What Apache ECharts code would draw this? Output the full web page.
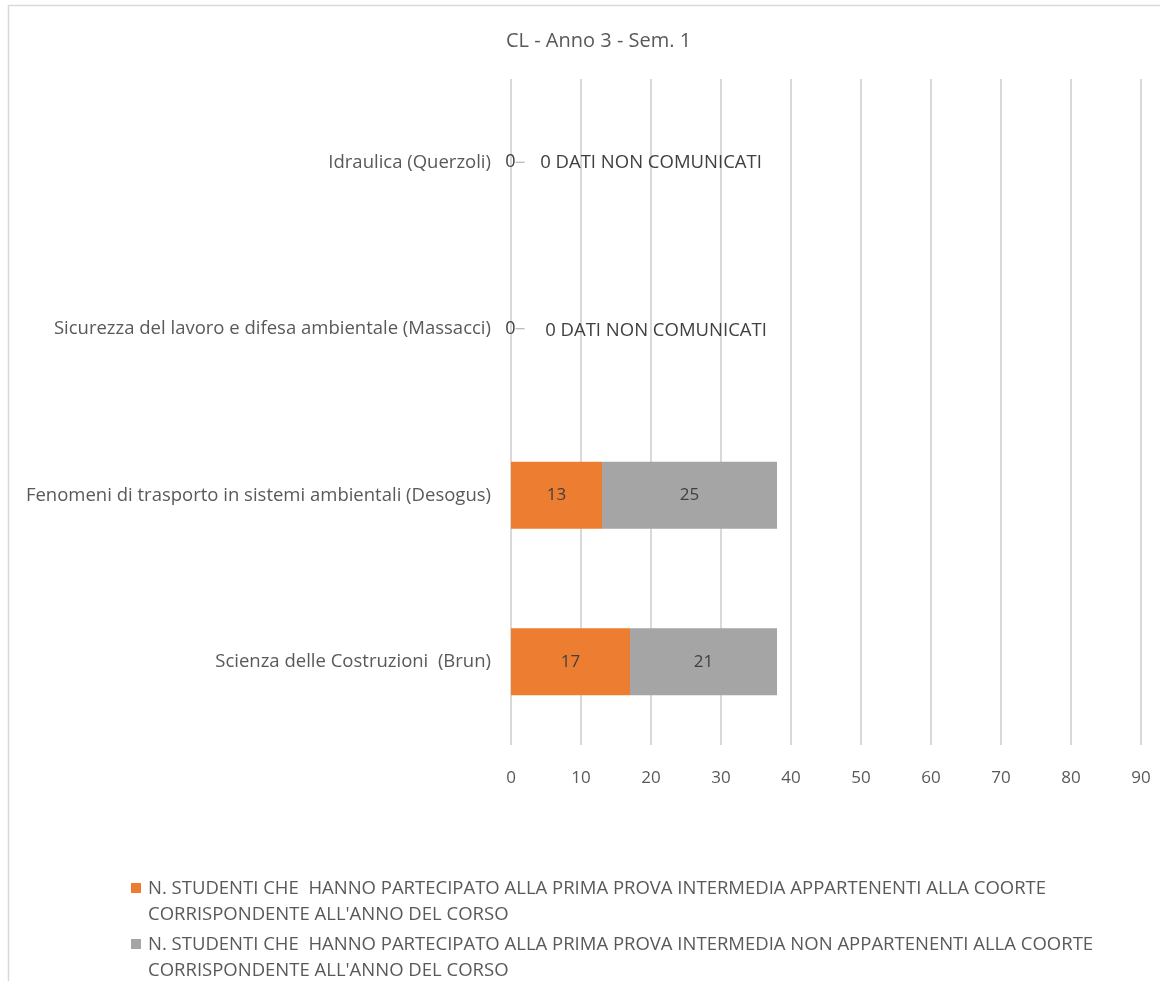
<!DOCTYPE html>
<html>
<head>
<meta charset="utf-8">
<script src="https://cdn.jsdelivr.net/npm/echarts@6/dist/echarts.min.js"></script>
<style>
html,body{margin:0;padding:0;background:#fff;}
#chart{width:1160px;height:981px;}
</style>
</head>
<body>
<div id="chart"></div>
<script>
const titleText = 'CL - Anno 3 - Sem. 1';
const categories = [
  'Scienza delle Costruzioni  (Brun)',
  'Fenomeni di trasporto in sistemi ambientali (Desogus)',
  'Sicurezza del lavoro e difesa ambientale (Massacci)',
  'Idraulica (Querzoli)'
];
const appartenenti = [17, 13, 0, 0];
const nonAppartenenti = [21, 25, 0, 0];
const notes = ['', '', 'DATI NON COMUNICATI', 'DATI NON COMUNICATI'];
const xTicks = [0, 10, 20, 30, 40, 50, 60, 70, 80, 90];
const seriesNames = [
  "N. STUDENTI CHE  HANNO PARTECIPATO ALLA PRIMA PROVA INTERMEDIA APPARTENENTI ALLA COORTE CORRISPONDENTE ALL'ANNO DEL CORSO",
  "N. STUDENTI CHE  HANNO PARTECIPATO ALLA PRIMA PROVA INTERMEDIA NON APPARTENENTI ALLA COORTE CORRISPONDENTE ALL'ANNO DEL CORSO"
];

const FONT = 'Open Sans';
const TXT = '#595959';
const chart = echarts.init(document.getElementById('chart'));
const option = {
  animation: false,
  textStyle: {fontFamily: FONT},
  title: {
    text: titleText, left: 501, top: 26,
    textStyle: {fontFamily: FONT, fontSize: 20, fontWeight: 'normal', color: TXT}
  },
  graphic: [{
    type: 'rect', left: 6, top: 3, silent: true,
    shape: {width: 1170, height: 990},
    style: {fill: 'none', stroke: '#D9D9D9', lineWidth: 1.5}
  }],
  legend: {
    orient: 'vertical', left: 126, top: 871, height: 200, itemGap: 4,
    itemWidth: 10, itemHeight: 38,
    icon: 'path://M0,0L10,0L10,10L0,10Z M0,38L0.01,38L0,38Z',
    selectedMode: false,
    textStyle: {fontFamily: FONT, fontSize: 18.5, color: TXT, lineHeight: 26, padding: [0, 0, 0, 2]},
    formatter: function (name) { return name.replace(' CORRISPONDENTE', '\nCORRISPONDENTE'); }
  },
  grid: {left: 511, right: 19, top: 79, bottom: 236, containLabel: false},
  xAxis: {
    type: 'value', min: 0, max: 90, interval: 10,
    axisLine: {show: false}, axisTick: {show: false},
    axisLabel: {fontSize: 17, color: TXT, margin: 25, fontFamily: FONT},
    splitLine: {show: true, lineStyle: {color: '#D9D9D9', width: 2}}
  },
  yAxis: {
    type: 'category', data: categories,
    axisLine: {show: false}, axisTick: {show: false},
    axisLabel: {fontSize: 18.5, color: TXT, margin: 20, fontFamily: FONT}
  },
  series: [
    {
      name: seriesNames[0], type: 'bar', stack: 'tot', barWidth: 67,
      data: appartenenti,
      itemStyle: {color: '#ED7D31'},
      label: {
        show: true, position: 'inside', fontSize: 17, color: '#404040', fontFamily: FONT,
        formatter: function (p) { return notes[p.dataIndex] ? '{z|' + p.value + '}{d|}' : String(p.value); },
        rich: {
          z: {fontSize: 18, lineHeight: 22, color: '#404040', fontFamily: FONT},
          d: {width: 9, height: 1, backgroundColor: '#A6A6A6'}
        }
      },
      labelLayout: function (p) {
        if (p.dataIndex >= 2) return {dx: 4};
        return {};
      }
    },
    {
      name: seriesNames[1], type: 'bar', stack: 'tot', barWidth: 67,
      data: nonAppartenenti,
      itemStyle: {color: '#A5A5A5'},
      label: {
        show: true, position: 'inside', fontSize: 17, color: '#404040', fontFamily: FONT,
        formatter: function (p) { return notes[p.dataIndex] ? p.value + ' ' + notes[p.dataIndex] : String(p.value); }
      },
      labelLayout: function (p) {
        if (p.dataIndex === 3) return {dx: 140, dy: 0, fontSize: 18.5};
        if (p.dataIndex === 2) return {dx: 145, dy: 2, fontSize: 18.5};
        return {};
      }
    }
  ]
};
chart.setOption(option);
</script>
</body>
</html>
